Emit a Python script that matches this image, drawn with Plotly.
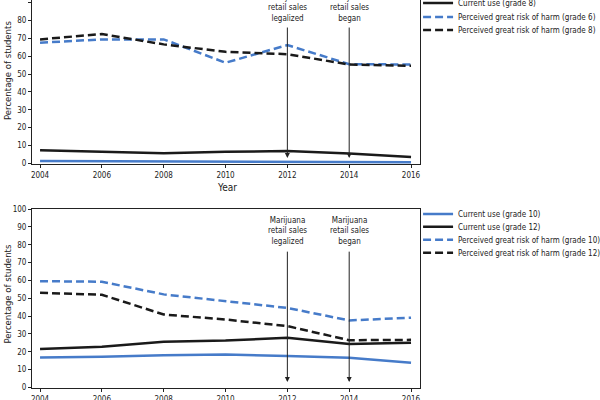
import plotly.graph_objects as go

years = [2004, 2006, 2008, 2010, 2012, 2014, 2016]

# Top panel (grades 6 and 8)
use_g6 = [1.2, 1.1, 0.9, 0.8, 0.8, 0.6, 0.5]
use_g8 = [7.3, 6.4, 5.6, 6.4, 6.9, 5.4, 3.5]
risk_g6 = [67.6, 69.5, 69.5, 56.4, 66.3, 55.6, 55.4]
risk_g8 = [69.5, 72.5, 66.7, 62.5, 61.2, 55.4, 54.7]

# Bottom panel (grades 10 and 12)
use_g10 = [16.8, 17.2, 18.1, 18.5, 17.7, 16.6, 13.8]
use_g12 = [21.5, 22.8, 25.7, 26.3, 27.9, 24.4, 25.1]
risk_g10 = [59.6, 59.3, 52.2, 48.5, 44.6, 37.6, 39.1]
risk_g12 = [53.1, 52.0, 40.9, 38.1, 34.4, 26.5, 26.7]

event_years = [2012, 2014]
event_labels = ["Marijuana<br>retail sales<br>legalized", "Marijuana<br>retail sales<br>began"]
yticks = list(range(0, 101, 10))

BLUE = "#467bc9"
BLACK = "#1a1a1a"
DASH = "8px,4px"
FONT = "DejaVu Sans Condensed, Liberation Sans, sans-serif"

fig = go.Figure()

top_series = [
    ("Current use (grade 6)", use_g6, BLUE, "solid"),
    ("Current use (grade 8)", use_g8, BLACK, "solid"),
    ("Perceived great risk of harm (grade 6)", risk_g6, BLUE, DASH),
    ("Perceived great risk of harm (grade 8)", risk_g8, BLACK, DASH),
]
bot_series = [
    ("Current use (grade 10)", use_g10, BLUE, "solid"),
    ("Current use (grade 12)", use_g12, BLACK, "solid"),
    ("Perceived great risk of harm (grade 10)", risk_g10, BLUE, DASH),
    ("Perceived great risk of harm (grade 12)", risk_g12, BLACK, DASH),
]

legend_ys_top = [1.0258, 0.9923, 0.956, 0.9227]
legend_ys_bot = [0.4485, 0.4157, 0.3822, 0.3487]

layout_legends = {}
idx = 1
for series, xa, ya, lys in [(top_series, "x", "y", legend_ys_top), (bot_series, "x2", "y2", legend_ys_bot)]:
    for (name, vals, color, dash), ly in zip(series, lys):
        lname = "legend" if idx == 1 else f"legend{idx}"
        fig.add_trace(go.Scatter(
            x=years, y=vals, name=name, mode="lines",
            line=dict(color=color, width=2.5, dash=dash),
            xaxis=xa, yaxis=ya, legend=lname, showlegend=True,
        ))
        layout_legends[lname] = dict(
            x=0.995, y=ly, xanchor="left", yanchor="middle",
            bgcolor="rgba(0,0,0,0)", borderwidth=0,
            font=dict(family=FONT, size=8, color="#222"),
            itemwidth=30, tracegroupgap=0,
        )
        idx += 1

axis_common = dict(
    showgrid=False, zeroline=False, showline=True, linecolor="#222", linewidth=1,
    ticks="outside", ticklen=3, tickcolor="#222", automargin=False,
    tickfont=dict(family=FONT, size=8, color="#222"),
)

fig.update_layout(
    width=600, height=400,
    margin=dict(l=32, r=180, t=0, b=12, autoexpand=False),
    plot_bgcolor="white", paper_bgcolor="white",
    font=dict(family=FONT, size=8, color="#222"),
    xaxis=dict(axis_common, domain=[0, 1], anchor="y", range=[2003.74, 2016.29],
               tickvals=years, mirror=False),
    yaxis=dict(axis_common, domain=[0.577, 1], anchor="x", range=[-0.5, 91.6],
               tickvals=yticks, mirror=True),
    xaxis2=dict(axis_common, domain=[0, 1], anchor="y2", range=[2003.74, 2016.29],
                tickvals=years, mirror=True),
    yaxis2=dict(axis_common, domain=[0, 0.461], anchor="x2", range=[-0.3, 100],
                tickvals=yticks, mirror=True),
    **layout_legends,
)

annotations = []
for xa, ya, ysh in [("x", "y", -3), ("x2", "y2", -1)]:
    for yr, lab in zip(event_years, event_labels):
        annotations.append(dict(
            x=yr, y=3, ax=yr, ay=77, xref=xa, yref=ya, axref=xa, ayref=ya,
            text="", showarrow=True, arrowhead=2, arrowsize=1, arrowwidth=1,
            arrowcolor="#222",
        ))
        annotations.append(dict(
            x=yr, y=79, xref=xa, yref=ya, text=lab, showarrow=False,
            yanchor="bottom", xanchor="center", yshift=ysh,
            font=dict(family=FONT, size=8, color="#222"), align="center",
        ))

# axis titles
for ty in [0.8196, 0.2436]:
    annotations.append(dict(
        x=-0.0619, y=ty, xref="paper", yref="paper", text="Percentage of students",
        textangle=-90, showarrow=False, xanchor="center", yanchor="middle",
        font=dict(family=FONT, size=9.5, color="#222"),
    ))
annotations.append(dict(
    x=0.5026, y=0.518, xref="paper", yref="paper", text="Year",
    showarrow=False, xanchor="center", yanchor="middle",
    font=dict(family=FONT, size=10, color="#222"),
))
fig.update_layout(annotations=annotations)

fig.write_html(
    "out.html",
    config={"displayModeBar": False},
    post_script="document.body.style.margin='0';document.body.style.overflow='hidden';",
)
